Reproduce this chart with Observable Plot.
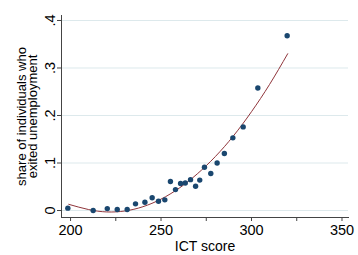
<!DOCTYPE html>
<html>
<head>
<meta charset="utf-8">
<script src="https://cdn.jsdelivr.net/npm/d3@7"></script>
<script src="https://cdn.jsdelivr.net/npm/@observablehq/plot@0.6"></script>
<style>
  html, body { margin: 0; padding: 0; background: #fff; }
  svg { display: block; }
</style>
</head>
<body>
<div id="chart"></div>
<script>
// binned scatter points (ICT score, share who exited unemployment)
const ictScore = [198.5, 212.5, 220.3, 225.8, 231.3, 235.9, 241.1, 245.1, 248.6, 252.1,
  255.2, 258.0, 260.8, 263.4, 266.3, 269.1, 271.4, 274.0, 277.5, 281.0,
  285.0, 289.7, 295.4, 303.5, 319.7];
const exitShare = [0.005, 0.000, 0.004, 0.002, 0.002, 0.014, 0.0175, 0.027, 0.0196, 0.0225,
  0.061, 0.044, 0.057, 0.058, 0.065, 0.051, 0.064, 0.091, 0.078, 0.100,
  0.120, 0.153, 0.176, 0.258, 0.368];
// fitted curve
const fitX = [199, 210, 220, 230, 240, 250, 260, 270, 280, 290, 300, 310, 320];
const fitY = [0.013, 0.002, -0.003, -0.001, 0.008, 0.024, 0.047, 0.077, 0.1135, 0.157, 0.208, 0.2655, 0.330];
// axis ticks
const xTicks = [200, 250, 300, 350];
const xMinorTicks = [225, 275, 325];
const yTicks = [0, 0.1, 0.2, 0.3, 0.4];
const yTickLabels = ["0", ".1", ".2", ".3", ".4"];

const points = ictScore.map((x, i) => ({x, y: exitShare[i]}));
const fit = fitX.map((x, i) => ({x, y: fitY[i]}));
const yLab = yTicks.map((y, i) => ({y, label: yTickLabels[i]}));

const font = "'Liberation Sans', Arial, sans-serif";

const chart = Plot.plot({
  width: 358,
  height: 255,
  marginLeft: 61,
  marginRight: 10,
  marginTop: 15,
  marginBottom: 38,
  style: {fontFamily: font, background: "#fff", color: "#000"},
  x: {domain: [195, 353.6], label: null},
  y: {domain: [-0.0147, 0.4105], label: null},
  marks: [
    Plot.gridY(yTicks, {stroke: "#dde9ec", strokeOpacity: 1, strokeWidth: 1}),
    Plot.line(fit, {x: "x", y: "y", stroke: "#90353b", strokeWidth: 1, curve: "natural"}),
    Plot.dot(points, {x: "x", y: "y", r: 2.7, fill: "#1a476f", stroke: "none"}),
    Plot.frame({anchor: "left", stroke: "#444"}),
    Plot.frame({anchor: "bottom", stroke: "#444"}),
    Plot.axisY(yTicks, {tickSize: 4, tickFormat: () => "", stroke: "#444", label: null}),
    Plot.text(yLab, {y: "y", text: "label", frameAnchor: "left", dx: -11, rotate: -90,
      fontSize: 14.5, textAnchor: "middle", lineAnchor: "middle", fill: "#000"}),
    Plot.axisX(xTicks, {tickSize: 4, tickPadding: 3, fontSize: 14.5, stroke: "#444", fill: "#000", label: null}),
    Plot.axisX(xMinorTicks, {tickSize: 4, tickFormat: () => "", stroke: "#444", label: null}),
    Plot.text(["share of individuals who\nexited unemployment"], {
      frameAnchor: "left", dx: -33.5, rotate: -90, fontSize: 13, lineHeight: 0.88,
      textAnchor: "middle", lineAnchor: "middle", fill: "#000"}),
    Plot.text(["ICT score"], {frameAnchor: "bottom", dy: 29, fontSize: 14, x: null,
      textAnchor: "middle", lineAnchor: "middle", fill: "#000"})
  ]
});
document.getElementById("chart").appendChild(chart);
</script>
</body>
</html>
